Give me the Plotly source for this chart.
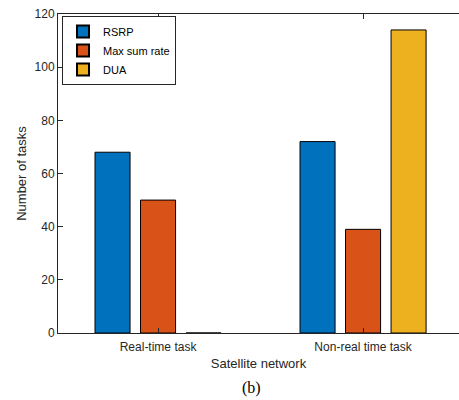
import plotly.graph_objects as go

categories = ["Real-time task", "Non-real time task"]
series_names = ["RSRP", "Max sum rate", "DUA"]
rsrp = [68, 72]
max_sum_rate = [50, 39]
dua = [0, 114]
colors = ["#0072BD", "#D95319", "#EDB120"]
y_ticks = [0, 20, 40, 60, 80, 100, 120]

x_pos = [1, 2]
fig = go.Figure()
for name, vals, col in zip(series_names, [rsrp, max_sum_rate, dua], colors):
    fig.add_trace(go.Bar(
        x=x_pos, y=vals, name=name,
        marker=dict(color=col, line=dict(color="black", width=1)),
    ))

font_family = "Liberation Sans, Arial, sans-serif"
fig.update_layout(
    width=459, height=400,
    margin=dict(l=58, r=0, t=14, b=67, autoexpand=False),
    paper_bgcolor="white", plot_bgcolor="white",
    barmode="group", bargap=0.334, bargroupgap=0.23,
    font=dict(family=font_family, size=12, color="#262626"),
    showlegend=True,
    legend=dict(
        x=0.01, y=0.994, xanchor="left", yanchor="top",
        bgcolor="white", bordercolor="#262626", borderwidth=1,
        font=dict(size=11, color="black"),
        tracegroupgap=0, itemsizing="constant",
    ),
    xaxis=dict(
        range=[0.512, 2.468], automargin=False,
        tickmode="array", tickvals=x_pos, ticktext=categories,
        ticks="inside", ticklen=5, tickcolor="#262626",
        ticklabelstandoff=3,
        showline=True, linecolor="#262626", linewidth=1,
        mirror="ticks", showgrid=False, zeroline=False,
        title=dict(text="Satellite network", standoff=5,
                   font=dict(size=13, color="#262626")),
    ),
    yaxis=dict(
        range=[0, 120], automargin=False,
        tickmode="array", tickvals=y_ticks,
        ticks="inside", ticklen=5, tickcolor="#262626",
        showline=True, linecolor="#262626", linewidth=1,
        mirror=False, showgrid=False, zeroline=False,
        title=dict(text="Number of tasks", standoff=5,
                   font=dict(size=13, color="#262626")),
    ),
)
fig.add_annotation(
    text="(b)", xref="paper", yref="paper",
    x=(251 - 58) / 401, y=-(388 - 333) / 319,
    xanchor="center", yanchor="middle", showarrow=False,
    font=dict(family="Liberation Serif, Times New Roman, serif", size=16, color="black"),
)
fig.write_html("out.html", config={"displayModeBar": False},
               post_script="document.body.style.margin='0';")
